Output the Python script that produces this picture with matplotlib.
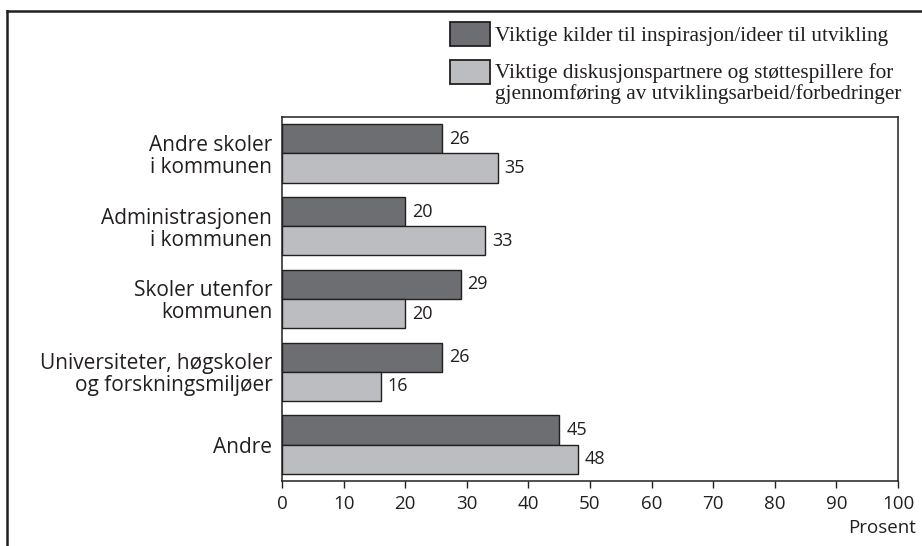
import numpy as np
import matplotlib
matplotlib.use("Agg")
import matplotlib.pyplot as plt
from matplotlib.lines import Line2D
from matplotlib.patches import Rectangle

categories = ["Andre skoler\ni kommunen", "Administrasjonen\ni kommunen",
              "Skoler utenfor\nkommunen", "Universiteter, høgskoler\nog forskningsmiljøer",
              "Andre"]
inspirasjon = [26, 20, 29, 26, 45]
diskusjon = [35, 33, 20, 16, 48]
series_names = ["Viktige kilder til inspirasjon/ideer til utvikling",
                "Viktige diskusjonspartnere og støttespillere for\ngjennomføring av utviklingsarbeid/forbedringer"]
xticks = list(range(0, 101, 10))

dark = "#6d6e71"
light = "#bcbdc0"
txt = "#231f20"

plt.rcParams['font.family'] = ['Open Sans', 'DejaVu Sans']

W, H = 922, 546
fig = plt.figure(figsize=(W/100, H/100), dpi=100)
ax = fig.add_axes([282/W, 1-481/H, (898-282)/W, (481-117)/H])

y = np.arange(len(categories))
h = 0.40
b1 = ax.barh(y - h/2, inspirasjon, height=h, color=dark, edgecolor=txt, linewidth=1.0)
b2 = ax.barh(y + h/2, diskusjon, height=h, color=light, edgecolor=txt, linewidth=1.0)

for bars in (b1, b2):
    for r in bars:
        ax.annotate(f"{int(r.get_width())}", (r.get_width(), r.get_y() + r.get_height()/2),
                    xytext=(5, 0), textcoords="offset points", va="center", ha="left",
                    fontsize=13, color=txt)

ax.set_xlim(0, 100)
ax.set_ylim(len(categories) - 0.5, -0.5)
ax.set_xticks(xticks)
ax.set_xticklabels([str(t) for t in xticks], fontsize=13.5, color=txt)
ax.set_yticks(y)
ax.set_yticklabels(categories, fontsize=15, color=txt, ha="right", multialignment="right",
                   linespacing=1.05)
ax.tick_params(axis="y", length=0, pad=7)
ax.tick_params(axis="x", length=5, width=1, color=txt, pad=5)
for s in ax.spines.values():
    s.set_color(txt)
    s.set_linewidth(1.1)

fig.text(916/W, 1-528/H, "Prosent", ha="right", va="center", fontsize=13.5, color=txt)

# legend, drawn by hand so the swatch lines up with the first text line
leg_font = {"family": "Liberation Serif", "size": 15.3}
for (bars, name, top, base) in ((b1, series_names[0], 22, 41), (b2, series_names[1], 60, 78)):
    fig.add_artist(Rectangle((450/W, 1-(top+24)/H), 40/W, 24/H, transform=fig.transFigure,
                             facecolor=bars[0].get_facecolor(), edgecolor=txt, lw=1.3))
    for k, line in enumerate(name.split("\n")):
        fig.text(495/W, 1-(base + 21*k)/H, line, ha="left", va="baseline", color=txt,
                 fontdict=leg_font)

# outer frame
fw = 1.8
top = 1 - 11/H
fig.add_artist(Line2D([7/W, 7/W], [0, top], transform=fig.transFigure, color=txt, lw=fw))
fig.add_artist(Line2D([7/W, 1], [top, top], transform=fig.transFigure, color=txt, lw=fw))

fig.savefig("out.png", dpi=100)
